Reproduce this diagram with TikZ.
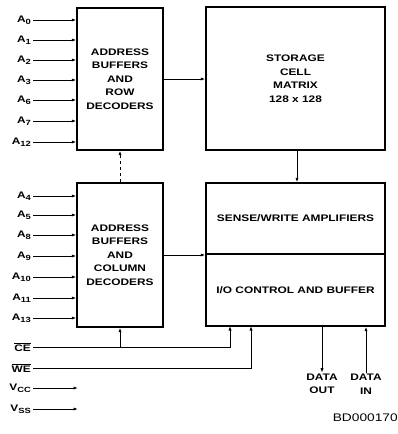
\documentclass[tikz,border=0pt]{standalone}
\usepackage{fontspec}
\newfontfamily\ramfont{Liberation Sans}[FakeStretch=1.25]
\usetikzlibrary{arrows.meta}
\newcommand{\pinsub}[1]{\raisebox{-2.2pt}{\fontsize{7.5}{8}\selectfont#1}}

\begin{document}
\begin{tikzpicture}[x=1pt, y=-1pt, >={Latex[length=4.5pt,width=3.2pt]},
  font=\ramfont\bfseries\fontsize{9.5}{13.5}\selectfont,
  block/.style={draw, line width=1.3pt, inner sep=0pt, align=center},
  sig/.style={line width=0.9pt},
  pinlbl/.style={anchor=east, inner sep=2pt}]
  \useasboundingbox (0,0) rectangle (398,434);

  % ---- blocks ----
  \node[block, minimum width=86pt, minimum height=142pt] (rowdec) at (120,79)
    {ADDRESS\\BUFFERS\\AND\\ROW\\DECODERS};
  \node[block, minimum width=86pt, minimum height=144pt] (coldec) at (120,255)
    {ADDRESS\\BUFFERS\\AND\\COLUMN\\DECODERS};
  \node[block, minimum width=179pt, minimum height=143pt] (storage) at (295.5,78.5)
    {STORAGE\\CELL\\MATRIX\\128 x 128};
  \node[block, minimum width=179pt, minimum height=71pt] (sense) at (295.5,218.5)
    {SENSE/WRITE AMPLIFIERS};
  \node[block, minimum width=179pt, minimum height=72pt] (io) at (295.5,290)
    {I/O CONTROL AND BUFFER};

  % ---- address inputs ----
  \foreach \n/\y in {0/20, 1/40, 2/60, 3/80, 6/100, 7/121, 12/142} {
    \node[pinlbl] (a\n) at (33,\y) {A\pinsub{\n}};
    \draw[sig, ->] (a\n.east) -- (a\n -| rowdec.west);
  }
  \foreach \n/\y in {4/196, 5/215, 8/235, 9/256, 10/277, 11/298, 13/318} {
    \node[pinlbl] (a\n) at (33,\y) {A\pinsub{\n}};
    \draw[sig, ->] (a\n.east) -- (a\n -| coldec.west);
  }

  % ---- control and supply pins ----
  \node[pinlbl] (ce) at (33,347) {$\overline{\mbox{CE}}$};
  \node[pinlbl] (we) at (33,368) {$\overline{\mbox{WE}}$};
  \node[pinlbl] (vcc) at (33,388) {V\pinsub{CC}};
  \node[pinlbl] (vss) at (33,409) {V\pinsub{SS}};
  \coordinate (iocs) at (230,326);
  \coordinate (iowe) at (251,326);
  \coordinate (vccend) at (78,388);
  \coordinate (vssend) at (78,409);
  \draw[sig, ->] (ce.east) -| (iocs);
  \draw[sig, ->] (we.east) -| (iowe);
  \draw[sig, ->] (coldec.south |- ce) -- (coldec.south);
  \draw[sig, ->] (vcc.east) -- (vccend);
  \draw[sig, ->] (vss.east) -- (vssend);

  % ---- internal paths ----
  \draw[sig, ->] (rowdec.east) -- (storage.west |- rowdec.east);
  \draw[sig, ->] (storage.south -| 297,0) -- (sense.north -| 297,0);
  \draw[sig, ->] (coldec.east) -- (coldec.east -| io.west);
  \draw[sig, dashed, ->] (coldec.north) -- (rowdec.south);

  % ---- data pins ----
  \node[align=center, inner sep=1pt] (dout) at (322,384) {DATA\\OUT};
  \node[align=center, inner sep=1pt] (din) at (366,384) {DATA\\IN};
  \draw[sig, ->] (io.south -| dout) -- (dout.north);
  \draw[sig, ->] (din.north) -- (io.south -| din);

  \node[anchor=east, inner sep=0pt, font=\ramfont\fontsize{11}{13}\selectfont] (bdno) at (398,418) {BD000170};
\end{tikzpicture}
\end{document}
